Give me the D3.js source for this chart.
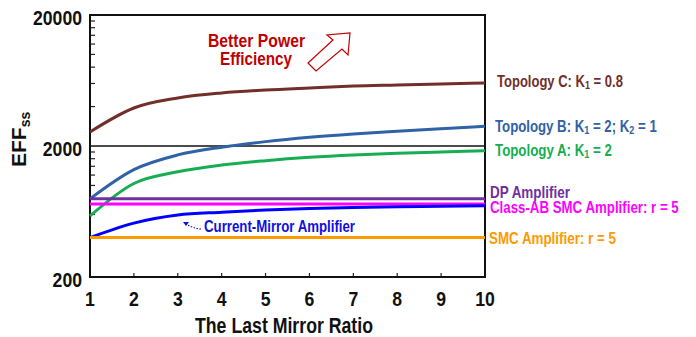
<!DOCTYPE html>
<html>
<head>
<meta charset="utf-8">
<script src="https://cdn.jsdelivr.net/npm/d3@7"></script>
<style>
  body { margin: 0; background: #fff; }
  text { font-family: "Liberation Sans", Arial, sans-serif; font-weight: bold; }
</style>
</head>
<body>
<div id="chart"></div>
<script>
// Chart size
const width = 696;
const height = 337;
const margin = {left: 90, right: 211, top: 15, bottom: 60};

// Data
const ratios = [1, 2, 3, 4, 5, 6, 7, 8, 9, 10];
const topoC = [2560, 3900, 4650, 5080, 5350, 5550, 5740, 5850, 5960, 6050];
const topoB = [790, 1320, 1710, 1960, 2160, 2330, 2470, 2590, 2710, 2830];
const topoA = [585, 1035, 1270, 1430, 1545, 1640, 1710, 1760, 1800, 1840];
const dpAmp = [790, 790, 790, 790, 790, 790, 790, 790, 790, 790];
const classAB = [720, 720, 720, 720, 720, 720, 720, 720, 720, 720];
const currentMirror = [400, 516, 595, 625, 650, 668, 680, 688, 694, 700];
const smcAmp = [400, 400, 400, 400, 400, 400, 400, 400, 400, 400];
const yTickLabels = [200, 2000, 20000];

// label layout: baseline, start x, width in the picture
const series = [
  {name: "Topology C: K", sub: "1", rest: " = 0.8", values: topoC, color: "#722f2a", lx: 497, ly: 87, lw: 126},
  {name: "Topology B: K", sub: "1", rest: " = 2; K", sub2: "2", rest2: " = 1", values: topoB, color: "#2f62a6", lx: 495, ly: 132, lw: 162},
  {name: "Topology A: K", sub: "1", rest: " = 2", values: topoA, color: "#17ad52", lx: 495, ly: 156, lw: 117},
  {name: "DP Amplifier", values: dpAmp, color: "#7030a0", lx: 490, ly: 198, lw: 80},
  {name: "Class-AB SMC Amplifier: r = 5", values: classAB, color: "#ff00ff", lx: 490, ly: 213, lw: 189},
  {name: "Current-Mirror", values: currentMirror, color: "#0000ff"},
  {name: "SMC Amplifier: r = 5", values: smcAmp, color: "#ff9900", lx: 489, ly: 244, lw: 127}
];

// squeeze text to a given width (the original uses a narrow font)
function fit(sel, len) {
  sel.attr("textLength", len).attr("lengthAdjust", "spacingAndGlyphs");
}

const svg = d3.select("#chart")
  .append("svg")
  .attr("width", width)
  .attr("height", height);

const x = d3.scaleLinear()
  .domain([1, 10])
  .range([margin.left, width - margin.right]);

const y = d3.scaleLog()
  .domain([200, 20000])
  .range([height - margin.bottom, margin.top]);

const x0 = x.range()[0], x1 = x.range()[1];
const yTop = y.range()[1], yBot = y.range()[0];

// Minor ticks on the y axis (every 200 / 2000)
const minor = [];
for (let v = 400; v < 2000; v += 200) minor.push(v);
for (let v = 4000; v < 20000; v += 2000) minor.push(v);
svg.append("g")
  .selectAll("line")
  .data(minor)
  .join("line")
  .attr("x1", x0).attr("x2", x0 + 5)
  .attr("y1", d => y(d)).attr("y2", d => y(d))
  .attr("stroke", "#222").attr("stroke-width", 1.2);

// x ticks pointing up
svg.append("g")
  .selectAll("line")
  .data(ratios.slice(1, -1))
  .join("line")
  .attr("x1", d => x(d)).attr("x2", d => x(d))
  .attr("y1", yBot).attr("y2", yBot - 4)
  .attr("stroke", "#222").attr("stroke-width", 1.2);

// Line at 2000
svg.append("line")
  .attr("x1", x0).attr("x2", x1)
  .attr("y1", y(2000)).attr("y2", y(2000))
  .attr("stroke", "#111").attr("stroke-width", 1.5);

// Frame
svg.append("rect")
  .attr("x", x0).attr("y", yTop)
  .attr("width", x1 - x0).attr("height", yBot - yTop)
  .attr("fill", "none").attr("stroke", "#111").attr("stroke-width", 2);

// Tick labels
svg.append("g")
  .selectAll("text")
  .data(yTickLabels)
  .join("text")
  .attr("x", x0 - 8)
  .attr("y", d => y(d) + 10)
  .attr("text-anchor", "end")
  .attr("font-size", 21)
  .attr("fill", "#111")
  .text(d => d)
  .each(function(d) { fit(d3.select(this), String(d).length * 9.8); });

svg.append("g")
  .selectAll("text")
  .data(ratios)
  .join("text")
  .attr("x", d => x(d))
  .attr("y", yBot + 29)
  .attr("text-anchor", "middle")
  .attr("font-size", 21)
  .attr("fill", "#111")
  .text(d => d)
  .each(function(d) { fit(d3.select(this), String(d).length * 9.8); });

// Axis titles
svg.append("text")
  .attr("x", 195)
  .attr("y", 333)
  .attr("font-size", 22)
  .attr("fill", "#111")
  .text("The Last Mirror Ratio")
  .call(fit, 178);

const yt = svg.append("text")
  .attr("transform", `translate(26, 167) rotate(-90)`)
  .attr("font-size", 21)
  .attr("fill", "#111");
yt.append("tspan").text("EFF");
yt.append("tspan").attr("font-size", 14).attr("dy", 4).text("ss");

// Curves
const line = d3.line()
  .x((d, i) => x(ratios[i]))
  .y(d => y(d))
  .curve(d3.curveMonotoneX);

svg.append("g")
  .selectAll("path")
  .data(series)
  .join("path")
  .attr("d", d => line(d.values))
  .attr("fill", "none")
  .attr("stroke", d => d.color)
  .attr("stroke-width", 3);

// Series labels on the right, scaled horizontally to the picture's narrow font
const labels = svg.append("g")
  .selectAll("text")
  .data(series.filter(d => d.ly))
  .join("text")
  .attr("font-size", 16)
  .attr("fill", d => d.color);
labels.each(function(d) {
  const t = d3.select(this);
  t.append("tspan").text(d.name);
  if (d.sub) {
    t.append("tspan").attr("font-size", 11).attr("dy", 2).text(d.sub);
    t.append("tspan").attr("dy", -2).text(d.rest);
  }
  if (d.sub2) {
    t.append("tspan").attr("font-size", 11).attr("dy", 2).text(d.sub2);
    t.append("tspan").attr("dy", -2).text(d.rest2);
  }
  const w = this.getComputedTextLength();
  t.attr("transform", `translate(${d.lx},${d.ly}) scale(${d.lw / w},1)`);
});

// Current-mirror annotation
svg.append("text")
  .attr("x", 204).attr("y", 232)
  .attr("font-size", 17)
  .attr("fill", "#1010e0")
  .text("Current-Mirror Amplifier")
  .call(fit, 151);
svg.append("path")
  .attr("d", "M201,229 Q192,228 186,224")
  .attr("fill", "none")
  .attr("stroke", "#1010e0")
  .attr("stroke-width", 1.2)
  .attr("stroke-dasharray", "1.5,1.5");
svg.append("path")
  .attr("d", "M183,222 L189,222 L186,226 Z")
  .attr("fill", "#1010e0");

// Better power efficiency note
svg.append("text")
  .attr("x", 208).attr("y", 47)
  .attr("font-size", 19)
  .attr("fill", "#c00000")
  .text("Better Power")
  .call(fit, 97);
svg.append("text")
  .attr("x", 220).attr("y", 65)
  .attr("font-size", 19)
  .attr("fill", "#c00000")
  .text("Efficiency")
  .call(fit, 72);

// Hollow arrow pointing up-right
svg.append("path")
  .attr("d", "M308,63 L333,40 L327,35 L350,33 L348,55 L342,49 L316,71 Z")
  .attr("fill", "#fff")
  .attr("stroke", "#c00000")
  .attr("stroke-width", 1.2)
  .attr("stroke-linejoin", "miter");
</script>
</body>
</html>
